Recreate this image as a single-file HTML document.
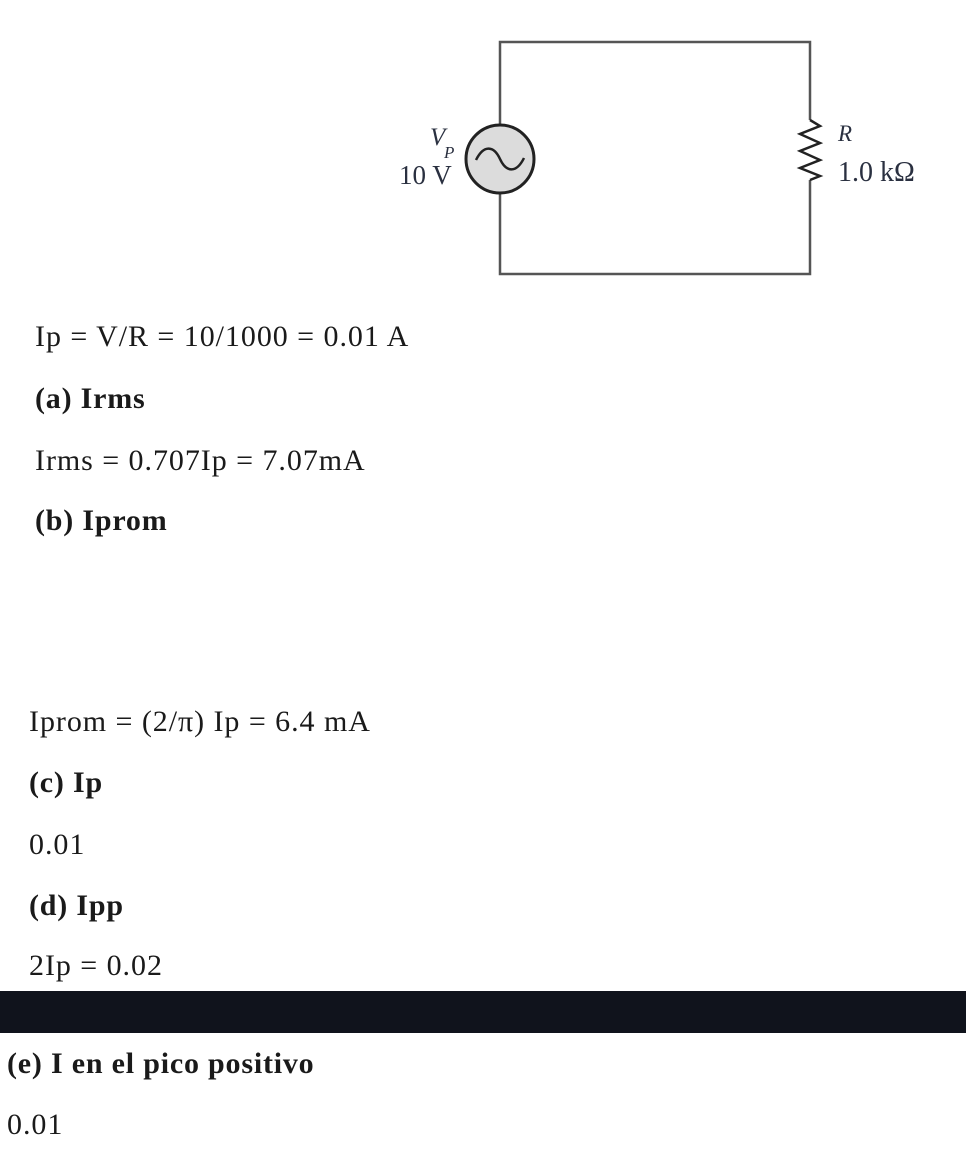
<!DOCTYPE html>
<html><head><meta charset="utf-8"><style>
body{margin:0;width:966px;height:1150px;background:#fff;position:relative;overflow:hidden;font-family:"Liberation Serif",serif;color:#1a1a1a}
.t{position:absolute;font-size:30px;line-height:30px;white-space:nowrap;letter-spacing:0.95px}
.b{font-weight:bold;letter-spacing:0.8px}
</style></head><body>
<svg width="966" height="300" style="position:absolute;left:0;top:0">
<g stroke="#555" stroke-width="2.5" fill="none">
<polyline points="500,124 500,42 810,42 810,120"/>
<polyline points="810,180 810,274 500,274 500,194"/>
<polyline stroke="#222" points="810,120 820,126 800,134 820,143 800,151 820,160 800,168 820,176 810,180"/>
</g>
<circle cx="500" cy="159" r="34" fill="#dcdcdc" stroke="#222" stroke-width="3"/>
<path d="M476,160 C484,144 494,146 500,159 C506,172 516,174 524,158" stroke="#222" stroke-width="2.5" fill="none"/>
<text x="430" y="145" font-family="Liberation Serif" font-style="italic" font-size="25" fill="#2a3040">V</text>
<text x="444" y="158" font-family="Liberation Serif" font-style="italic" font-size="17" fill="#2a3040">P</text>
<text x="399" y="184" font-family="Liberation Serif" font-size="27" fill="#2a3040">10 V</text>
<text x="838" y="141" font-family="Liberation Serif" font-style="italic" font-size="23" fill="#2a3040">R</text>
<text x="838" y="181" font-family="Liberation Serif" font-size="28" fill="#2a3040">1.0 kΩ</text>
</svg>
<div class="t" style="left:35px;top:322px">Ip = V/R = 10/1000 = 0.01 A</div>
<div class="t b" style="left:35px;top:384px">(a) Irms</div>
<div class="t" style="left:35px;top:446px">Irms = 0.707Ip = 7.07mA</div>
<div class="t b" style="left:35px;top:506px">(b) Iprom</div>
<div class="t" style="left:29px;top:707px">Iprom = (2/π) Ip = 6.4 mA</div>
<div class="t b" style="left:29px;top:768px">(c) Ip</div>
<div class="t" style="left:29px;top:830px">0.01</div>
<div class="t b" style="left:29px;top:891px">(d) Ipp</div>
<div class="t" style="left:29px;top:951px">2Ip = 0.02</div>
<div style="position:absolute;left:0;top:991px;width:966px;height:42px;background:#10131c"></div>
<div class="t b" style="left:7px;top:1049px">(e) I en el pico positivo</div>
<div class="t" style="left:7px;top:1110px">0.01</div>
</body></html>
